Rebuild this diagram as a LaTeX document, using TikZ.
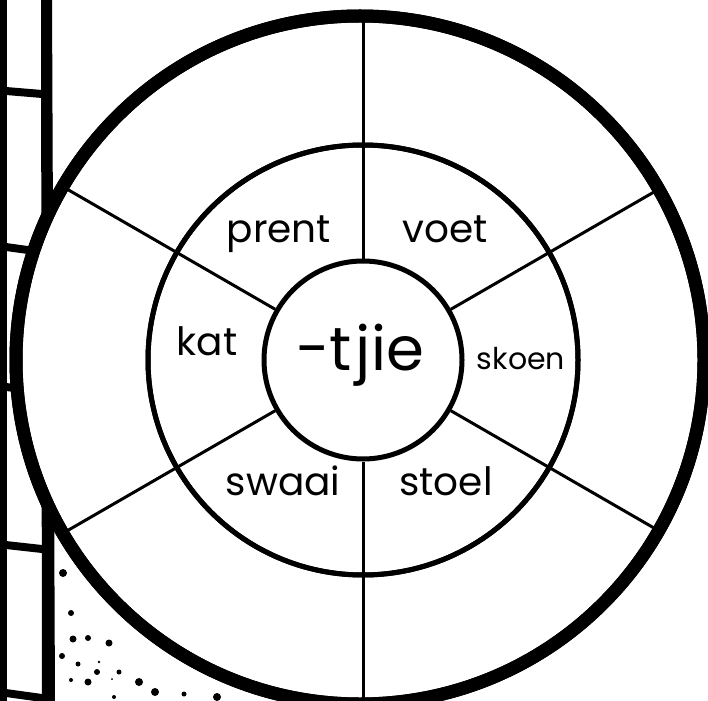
\documentclass[tikz,border=0pt]{standalone}
\usepackage{fontspec}
\setmainfont{Poppins}
\begin{document}
\begin{tikzpicture}[x=1pt,y=-1pt,
  ring/.style={draw=black, circle, inner sep=0pt, fill=white},
  spoke/.style={draw=black, line width=3pt},
  word/.style={anchor=base, inner sep=0pt, font=\fontsize{39}{39}\selectfont},
  dot/.style={fill=black}]
\useasboundingbox (0,0) rectangle (708,700);
\clip (0,0) rectangle (708,700);
% ladder at the left
\fill (0,-5) rectangle (7,705);
\fill (41,-5) -- (52,-5) -- (55,705) -- (42,705) -- cycle;
\foreach \ya/\yb in {87/90, 243/248, 383/387, 541/545, 689/694}
  \fill (6,\ya) -- (42,\yb) -- (42,\yb+8) -- (6,\ya+8) -- cycle;
% dots
\foreach \x/\y/\r in {63/573/4, 71/613/3, 73/639/3.5, 88/638/3, 109/643/3.5,
  62/656/3, 78/664/2.5, 99/662/1.3, 97/672/3, 119/672/2.5, 71/680/2,
  88/682/3.5, 112/679/1, 139/682/4, 155/692/4, 114/697/2, 184/694/2.5, 217/697/4}
  \fill[dot] (\x,\y) circle (\r);
% wheel
\coordinate (O) at (360,360);
\coordinate (C) at (363,360);
\node[ring, line width=13pt, minimum size=688pt] (outer) at (O) {};
\node[ring, line width=5pt, minimum size=430pt] (middle) at (C) {};
\node[ring, line width=5pt, minimum size=198pt] (inner) at (C) {};
\foreach \a in {30,90,150,210,270,330} {
  \path (C) ++(\a:344pt) coordinate (e\a);
  \draw[spoke] (inner.\a) -- (e\a);
}
\draw[line width=5pt] (middle.center) circle (215);
\draw[line width=13pt] (outer.center) circle (344);
% words
\node[word] (prent) at (279,243) {prent};
\node[word] (voet) at (445,243) {voet};
\node[word] (kat) at (207,355) {kat};
\node[word, font=\fontsize{30}{30}\selectfont] (skoen) at (521,369) {skoen};
\node[word] (swaai) at (283,495) {swaai};
\node[word] (stoel) at (446,495) {stoel};
\node[word, font=\fontsize{61}{61}\selectfont] (tjie) at (360,370) {-t\kern4pt jie};
\end{tikzpicture}
\end{document}
